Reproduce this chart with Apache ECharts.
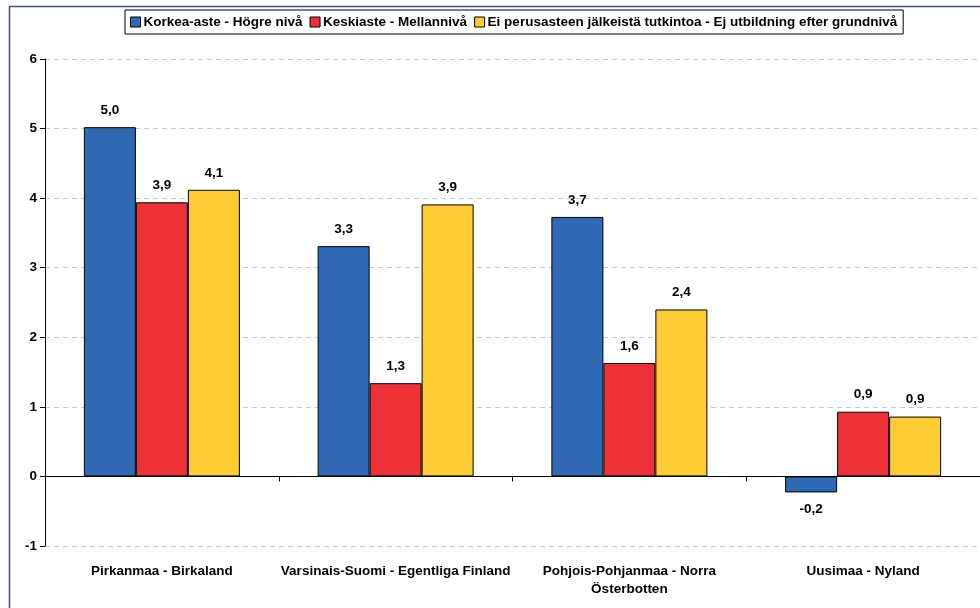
<!DOCTYPE html>
<html>
<head>
<meta charset="utf-8">
<script src="https://cdn.jsdelivr.net/npm/echarts@6/dist/echarts.min.js"></script>
<style>
  html, body { margin: 0; padding: 0; background: #fff; }
  #chart { width: 980px; height: 608px; }
</style>
</head>
<body>
<div id="chart"></div>
<script>
// alueet
const regions = ['Pirkanmaa - Birkaland', 'Varsinais-Suomi - Egentliga Finland', 'Pohjois-Pohjanmaa - Norra\nÖsterbotten', 'Uusimaa - Nyland']
// sarjat
const seriesNames = ['Korkea-aste - Högre nivå', 'Keskiaste - Mellannivå', 'Ei perusasteen jälkeistä tutkintoa - Ej utbildning efter grundnivå']
const korkea = [5.02, 3.31, 3.73, -0.23]
const keski = [3.94, 1.34, 1.63, 0.93]
const eiTutkintoa = [4.12, 3.91, 2.40, 0.86]
const yTicks = [-1, 0, 1, 2, 3, 4, 5, 6]

const colors = ['#2f69b3', '#ee3136', '#fdcb32']
const font = 'Liberation Sans, Arial, sans-serif'
const fs = 13.5

const chart = echarts.init(document.getElementById('chart'))

const makeSeries = (name, data, color) => ({
  name: name,
  type: 'bar',
  data: data,
  barWidth: 52,
  barGap: '0%',
  itemStyle: { color: color, borderColor: '#000', borderWidth: 1 },
  label: {
    show: true,
    position: 'outside',
    distance: 10,
    fontFamily: font,
    fontWeight: 'bold',
    fontSize: fs,
    color: '#000',
    formatter: p => p.value.toFixed(1).replace('.', ',')
  }
})

chart.setOption({
  animation: false,
  color: colors,
  textStyle: { fontFamily: font },
  graphic: [{
    type: 'rect',
    shape: { x: 9.5, y: 6.5, width: 1000, height: 700 },
    style: { fill: 'none', stroke: '#3c4c8c', lineWidth: 1.5 },
    z: -1
  }],
  legend: {
    left: 125,
    top: 10,
    padding: [5, 6, 5, 5],
    itemGap: 7,
    itemWidth: 10,
    itemHeight: 10,
    icon: 'rect',
    borderColor: '#000',
    borderWidth: 1,
    itemStyle: { borderColor: '#000', borderWidth: 1 },
    textStyle: { fontFamily: font, fontWeight: 'bold', fontSize: fs, color: '#000', padding: [0, 0, 0, -2] },
    data: seriesNames
  },
  grid: { left: 45, right: -1, top: 59, bottom: 62 },
  xAxis: {
    type: 'category',
    data: regions,
    axisLine: { lineStyle: { color: '#000' }, onZero: true },
    axisTick: { show: true, length: 5, inside: false, lineStyle: { color: '#000' } },
    axisLabel: {
      fontFamily: font, fontWeight: 'bold', fontSize: fs, color: '#000',
      margin: 16, lineHeight: 18, interval: 0
    },
    position: 'bottom'
  },
  yAxis: {
    type: 'value',
    min: yTicks[0],
    max: yTicks[yTicks.length - 1],
    interval: 1,
    axisLine: { show: true, lineStyle: { color: '#000' } },
    axisTick: { show: true, length: 5, lineStyle: { color: '#000' } },
    axisLabel: { fontFamily: font, fontWeight: 'bold', fontSize: fs, color: '#000', margin: 8 },
    splitLine: { show: true, lineStyle: { color: '#c8c8c8', type: [5, 4] } }
  },
  series: [
    makeSeries(seriesNames[0], korkea, colors[0]),
    makeSeries(seriesNames[1], keski, colors[1]),
    makeSeries(seriesNames[2], eiTutkintoa, colors[2])
  ]
})
</script>
</body>
</html>
